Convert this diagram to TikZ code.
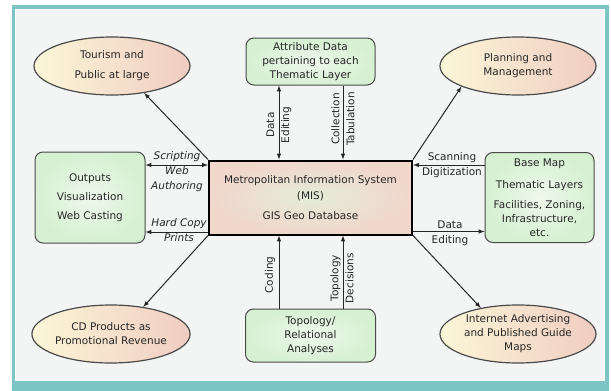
\documentclass[tikz,border=0pt]{standalone}
\usepackage{fontspec}
\setmainfont{DejaVu Sans}
\usetikzlibrary{shapes.geometric}

\definecolor{frameteal}{HTML}{7CC5C4}
\definecolor{panelgray}{HTML}{F3F4F4}
\definecolor{boxgreen}{HTML}{D6F0D2}
\definecolor{boxgreenin}{HTML}{EEF8EC}
\definecolor{ovalcream}{HTML}{FBF6D8}
\definecolor{ovalpink}{HTML}{F0CDC1}
\definecolor{mispink}{HTML}{F1D6CC}
\definecolor{misgreen}{HTML}{E4ECD8}
\definecolor{inkgray}{HTML}{262626}
\definecolor{edgegray}{HTML}{4A4A4A}

\tikzset{
  greenbox/.style={draw=edgegray, line width=1pt, rounded corners=8pt, inner color=boxgreenin, outer color=boxgreen, align=center, text=inkgray, font=\fontsize{10.5}{14}\selectfont},
  oval/.style={ellipse, draw=edgegray, line width=1.2pt, left color=ovalcream, right color=ovalpink, minimum width=156pt, minimum height=58pt, inner sep=0pt, align=center, text=inkgray, font=\fontsize{10.5}{14}\selectfont},
  misbox/.style={draw=black, line width=2pt, inner color=misgreen, outer color=mispink, align=center, text=inkgray, font=\fontsize{10.5}{14}\selectfont},
  lbl/.style={align=center, text=inkgray, inner sep=1pt, font=\fontsize{10.5}{15}\selectfont},
  lbli/.style={lbl, font=\fontsize{10.5}{15}\selectfont\itshape},
  arr/.style={line width=1pt, draw=black!85},
  >=latex
}

\begin{document}
\begin{tikzpicture}[x=1pt,y=-1pt]
\useasboundingbox (0,0) rectangle (611,391);
\fill[white] (0,0) rectangle (611,391);
\fill[frameteal] (12,5) rectangle (609,391);
\fill[white] (15,9) rectangle (605,381);
\fill[panelgray] (16,10) rectangle (604,380);

\node[oval] (tour) at (112,66) {Tourism and\\[6pt]Public at large};
\node[oval] (plan) at (518,66) {Planning and\\Management};
\node[oval] (cdprod) at (111,334) {CD Products as\\Promotional Revenue};
\node[oval] (inet) at (518,334) {Internet Advertising\\and Published Guide\\Maps};

\node[greenbox, minimum width=129pt, minimum height=47pt] (attr) at (310.5,61.5) {Attribute Data\\pertaining to each\\Thematic Layer};
\node[greenbox, minimum width=130pt, minimum height=53pt] (topo) at (310.5,335.5) {Topology/\\Relational\\Analyses};
\node[greenbox, minimum width=110pt, minimum height=91pt] (outp) at (90,197.5) {Outputs\\[5pt]Visualization\\[5pt]Web Casting};
\node[greenbox, minimum width=109pt, minimum height=90pt] (basemap) at (539.5,197.5) {Base Map\\[8pt]Thematic Layers\\[6pt]Facilities, Zoning,\\Infrastructure,\\etc.};
\node[misbox, minimum width=203pt, minimum height=74pt] (mis) at (310.5,197.5) {Metropolitan Information System\\[2pt](MIS)\\[6pt]GIS Geo Database};

\draw[arr,<->] ([xshift=-31.5pt]attr.south) -- ([xshift=-31.5pt]mis.north);
\draw[arr,->] ([xshift=32.5pt]attr.south) -- ([xshift=32.5pt]mis.north);
\draw[arr,->] ([xshift=-31.5pt]topo.north) -- ([xshift=-31.5pt]mis.south);
\draw[arr,->] ([xshift=32.5pt]topo.north) -- ([xshift=32.5pt]mis.south);

\draw[arr,<->] ([yshift=32.5pt]outp.east) -- ([yshift=32.5pt]mis.west);
\draw[arr,->] ([yshift=-34.5pt]mis.west) -- ([yshift=-34.5pt]outp.east);
\draw[arr,->] ([yshift=32.5pt]basemap.west) -- ([yshift=32.5pt]mis.east);
\draw[arr,->] ([yshift=-34pt]mis.east) -- ([yshift=-34pt]basemap.west);

\draw[arr,->] (mis.north west) -- (tour.-40);
\draw[arr,->] (mis.north east) -- (plan.200);
\draw[arr,->] (mis.south west) -- (cdprod.40);
\draw[arr,->] (mis.south east) -- (inet.145);

\node[lbl, rotate=90] (ldata) at (279,125) {Data\\Editing};
\node[lbl, rotate=90] (lcoll) at (343,119) {Collection\\Tabulation};
\node[lbl, rotate=90] (lcod) at (270,275) {Coding};
\node[lbl, rotate=90] (ltopo) at (342,278) {Topology\\Decisions};
\node[lbli] (lscr) at (177,172) {Scripting\\Web\\Authoring};
\node[lbli] (lhard) at (179,230.5) {Hard Copy\\Prints};
\node[lbl] (lscan) at (452,165.5) {Scanning\\Digitization};
\node[lbl] (ledit) at (450,233) {Data\\Editing};
\end{tikzpicture}
\end{document}
